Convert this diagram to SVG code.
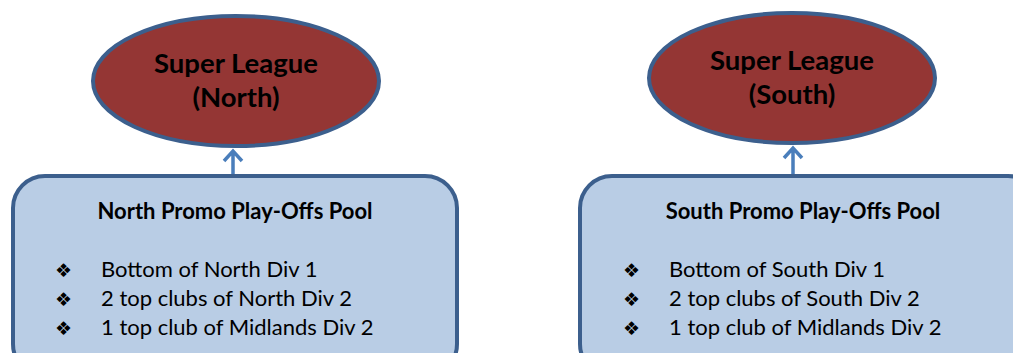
<svg xmlns="http://www.w3.org/2000/svg" width="1013" height="353" viewBox="0 0 1013 353">
<defs>
<style>
.ell{fill:#943634;stroke:#3c5f8d;stroke-width:4}
.box{fill:#b9cde5;stroke:#3c5f8d;stroke-width:4}
.t1{font-family:Lato,"Liberation Sans",sans-serif;font-weight:bold;font-size:27.5px;fill:#000;text-anchor:middle}
.t2{font-family:Lato,"Liberation Sans",sans-serif;font-weight:bold;font-size:22px;fill:#000;text-anchor:middle}
.li{font-family:Lato,"Liberation Sans",sans-serif;font-size:22px;fill:#000}
.bu{font-family:"DejaVu Sans",sans-serif;font-size:19px;fill:#000}
.con{stroke:#4a7ebb;stroke-width:3.5;fill:none}
</style>
</defs>
<g id="super-north">
<ellipse class="ell" cx="236" cy="81" rx="143" ry="65"/>
<text class="t1" x="236" y="73">Super League</text>
<text class="t1" x="236" y="107">(North)</text>
</g>
<g id="super-south">
<ellipse class="ell" cx="792" cy="78" rx="143" ry="65"/>
<text class="t1" x="792" y="70">Super League</text>
<text class="t1" x="792" y="104">(South)</text>
</g>
<g id="connectors">
<path class="con" d="M233 176 V151 M224 161 L233 151 L242 161"/>
<path class="con" d="M793 176 V148 M784 158 L793 148 L802 158"/>
</g>
<g id="north-pool">
<rect class="box" x="13" y="176" width="444" height="200" rx="32"/>
<text class="t2" x="235" y="219">North Promo Play-Offs Pool</text>
<text class="bu" x="55" y="277">❖</text>
<text class="bu" x="55" y="306">❖</text>
<text class="bu" x="55" y="335">❖</text>
<text class="li" x="101" y="277">Bottom of North Div 1</text>
<text class="li" x="101" y="306">2 top clubs of North Div 2</text>
<text class="li" x="101" y="335">1 top club of Midlands Div 2</text>
</g>
<g id="south-pool">
<rect class="box" x="580" y="176" width="460" height="200" rx="32"/>
<text class="t2" x="803" y="219">South Promo Play-Offs Pool</text>
<text class="bu" x="623" y="277">❖</text>
<text class="bu" x="623" y="306">❖</text>
<text class="bu" x="623" y="335">❖</text>
<text class="li" x="669" y="277">Bottom of South Div 1</text>
<text class="li" x="669" y="306">2 top clubs of South Div 2</text>
<text class="li" x="669" y="335">1 top club of Midlands Div 2</text>
</g>
</svg>
